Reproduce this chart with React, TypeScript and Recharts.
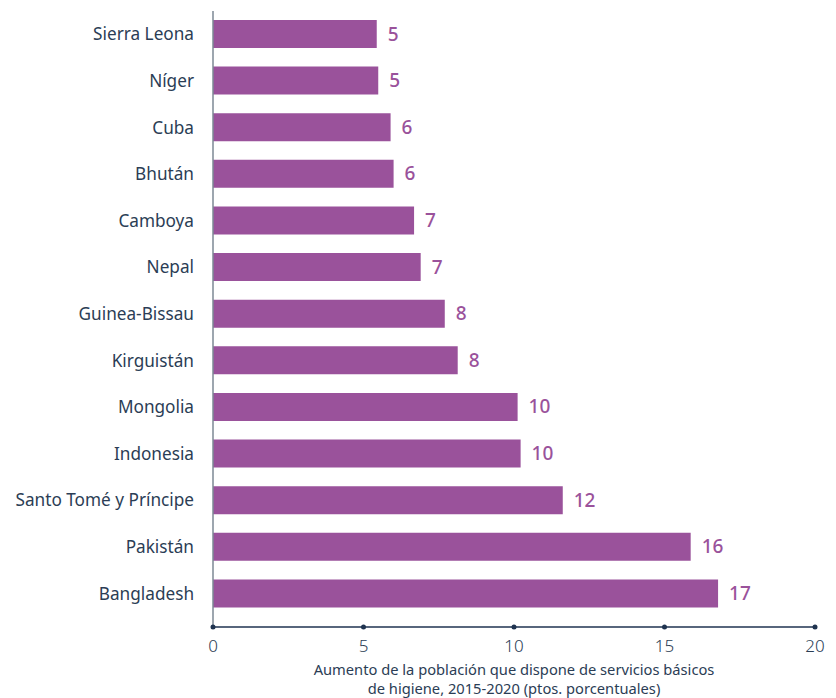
import { BarChart, Bar, XAxis, YAxis, LabelList, Label } from "recharts";

const countries = [
  "Sierra Leona",
  "Níger",
  "Cuba",
  "Bhután",
  "Camboya",
  "Nepal",
  "Guinea-Bissau",
  "Kirguistán",
  "Mongolia",
  "Indonesia",
  "Santo Tomé y Príncipe",
  "Pakistán",
  "Bangladesh",
];

const increase = [5.44, 5.49, 5.9, 6.0, 6.68, 6.9, 7.7, 8.13, 10.12, 10.22, 11.62, 15.87, 16.78];

const xTicks = [0, 5, 10, 15, 20];

const titleLines = [
  "Aumento de la población que dispone de servicios básicos",
  "de higiene, 2015-2020 (ptos. porcentuales)",
];

const data = countries.map((name, i) => ({ name, value: increase[i] }));

const PURPLE = "#9a529b";
const NAVY = "#2b3d55";
const FONT = "'Noto Sans', sans-serif";

function CountryTick({ x, y, payload }: { x?: number; y?: number; payload?: { value: string } }) {
  return (
    <text
      x={(x ?? 0) - 19}
      y={y}
      dy={6}
      textAnchor="end"
      fill={NAVY}
      fontSize={17.2}
      fontFamily={FONT}
    >
      {payload?.value}
    </text>
  );
}

function ValueTick({ x, y, payload }: { x?: number; y?: number; payload?: { value: number } }) {
  return (
    <g>
      <circle cx={x} cy={y} r={2.5} fill="#1f3350" />
      <text
        x={x}
        y={(y ?? 0) + 25}
        textAnchor="middle"
        fill={NAVY}
        fontSize={17}
        fontWeight={300}
        fontFamily={FONT}
      >
        {payload?.value}
      </text>
    </g>
  );
}

function AxisTitle({ viewBox }: { viewBox?: { x: number; y: number; width: number } }) {
  if (!viewBox) return null;
  const cx = viewBox.x + viewBox.width / 2;
  return (
    <text textAnchor="middle" fill={NAVY} fontSize={14.7} fontFamily={FONT}>
      {titleLines.map((line, i) => (
        <tspan key={i} x={cx} y={viewBox.y + 48 + i * 19}>
          {line}
        </tspan>
      ))}
    </text>
  );
}

function ValueLabel(props: {
  x?: number | string;
  y?: number | string;
  width?: number | string;
  height?: number | string;
  value?: number | string;
}) {
  const x = Number(props.x) + Number(props.width) + 11;
  const y = Number(props.y) + Number(props.height) / 2;
  return (
    <text
      x={x}
      y={y}
      dy={6.5}
      fill={PURPLE}
      fontSize={19}
      fontWeight={500}
      fontFamily={FONT}
    >
      {Math.round(Number(props.value))}
    </text>
  );
}

export default function App() {
  return (
    <div style={{ width: 828, height: 690, background: "#fff" }}>
      <BarChart
        width={828}
        height={690}
        data={data}
        layout="vertical"
        margin={{ top: 3, right: 21, bottom: 0, left: 0 }}
      >
        <XAxis
          type="number"
          domain={[0, 20]}
          ticks={xTicks}
          height={71}
          axisLine={{ stroke: "#1f3350", strokeWidth: 1.5 }}
          tickLine={false}
          tickSize={0}
          tickMargin={0}
          tick={<ValueTick />}
          interval={0}
        >
          <Label content={<AxisTitle />} />
        </XAxis>
        <YAxis
          type="category"
          dataKey="name"
          width={205}
          padding={{ top: 0, bottom: 10 }}
          axisLine={{ stroke: "#7d8894", strokeWidth: 1.5 }}
          tickLine={false}
          tickSize={0}
          tickMargin={0}
          tick={<CountryTick />}
          interval={0}
        />
        <Bar dataKey="value" fill={PURPLE} barSize={28} isAnimationActive={false}>
          <LabelList dataKey="value" content={<ValueLabel />} />
        </Bar>
      </BarChart>
    </div>
  );
}
